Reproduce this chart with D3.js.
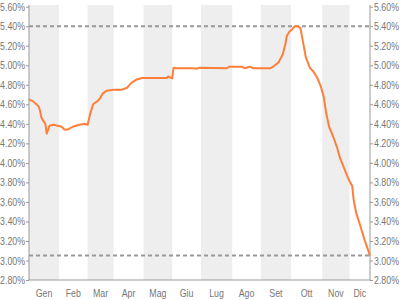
<!DOCTYPE html>
<html>
<head>
<meta charset="utf-8">
<script src="https://cdn.jsdelivr.net/npm/d3@7"></script>
<style>
  body { margin: 0; background: #fff; }
  svg text { font-family: "Liberation Sans", Arial, sans-serif; font-size: 11px; fill: #777; }
</style>
</head>
<body>
<svg width="400" height="300"></svg>
<script>
// months and number of trading days in each
var months = ["Gen", "Feb", "Mar", "Apr", "Mag", "Giu", "Lug", "Ago", "Set", "Ott", "Nov", "Dic"];
var monthDays = [22, 21, 19, 22, 21, 21, 23, 21, 22, 23, 20, 15];

// trading-day index and rate (%)
var dayIdx = [0, 3, 7, 8, 9, 10, 12, 13, 15, 18, 21, 24, 26, 29, 32, 37, 41, 43, 45, 47, 50, 52, 54, 57,
    62, 68, 72, 75, 79, 83, 101, 102, 105, 106, 108, 120, 123, 125, 145, 147, 156, 158, 162, 164,
    177, 179, 183, 186, 188, 189, 191, 193, 195, 197, 199, 201, 203, 206, 208, 211, 214, 216, 218,
    220, 223, 226, 228, 231, 234, 237, 238, 240, 243, 246, 249, 250];
var rate = [4.65, 4.63, 4.58, 4.54, 4.47, 4.44, 4.40, 4.30, 4.38, 4.39, 4.38, 4.37, 4.34, 4.345, 4.37, 4.39, 4.40, 4.39, 4.51, 4.60, 4.63, 4.66, 4.71, 4.74,
    4.75, 4.75, 4.77, 4.82, 4.855, 4.87, 4.87, 4.885, 4.865, 4.975, 4.97, 4.97, 4.965, 4.975, 4.97, 4.985, 4.985, 4.97, 4.985, 4.97,
    4.97, 4.985, 5.03, 5.11, 5.22, 5.30, 5.345, 5.37, 5.40, 5.40, 5.38, 5.23, 5.08, 4.97, 4.945, 4.88, 4.78, 4.68, 4.50,
    4.37, 4.27, 4.15, 4.05, 3.945, 3.84, 3.76, 3.62, 3.48, 3.35, 3.21, 3.09, 3.05];

var yTicks = d3.range(2.8, 5.61, 0.2);

var data = dayIdx.map((d, i) => ({ day: d, value: rate[i] }));

// month start positions
var monthStart = [];
var acc = 0;
monthDays.forEach(n => { monthStart.push(acc); acc += n; });
var totalDays = acc;

var svg = d3.select('svg');

var plotLeft = 29, plotRight = 370, plotTop = 5, plotBottom = 280;

var xScale = d3.scaleLinear()
    .domain([0, totalDays])
    .range([plotLeft, plotRight]);

var yScale = d3.scaleLinear()
    .domain([2.8, 5.6])
    .range([plotBottom, 6.7]);

// alternate month bands (Gen, Mar, Mag, ...)
var bandIdx = d3.range(0, months.length, 2);
svg.selectAll("rect.band")
    .data(bandIdx)
    .enter()
    .append("rect")
    .attr("class", "band")
    .attr("x", i => xScale(monthStart[i]))
    .attr("y", plotTop)
    .attr("width", i => xScale(monthStart[i] + monthDays[i]) - xScale(monthStart[i]))
    .attr("height", plotBottom - plotTop)
    .style("fill", "#eeeeee");

// month labels
svg.selectAll("text.month")
    .data(months)
    .enter()
    .append("text")
    .attr("class", "month")
    .attr("x", (d, i) => xScale(monthStart[i] + monthDays[i] / 2))
    .attr("y", 297)
    .attr("text-anchor", "middle")
    .text(d => d);

// axes
var fmt = d => d3.format(".2f")(d) + "%";

var yLeft = svg.append("g")
    .attr("transform", "translate(" + plotLeft + ",0)")
    .call(d3.axisLeft(yScale).tickValues(yTicks).tickFormat(fmt).tickSize(3).tickPadding(1));

var yRight = svg.append("g")
    .attr("transform", "translate(" + plotRight + ",0)")
    .call(d3.axisRight(yScale).tickValues(yTicks).tickFormat(fmt).tickSize(3).tickPadding(1));

[yLeft, yRight].forEach(g => {
    g.select(".domain").remove();
    g.selectAll("line").style("stroke", "#999");
    g.selectAll("text").style("fill", "#777").style("font-size", "11px")
        .style("font-family", '"Liberation Sans", Arial, sans-serif');
});

// squeeze all text to look like a narrow face
svg.selectAll("text").each(function() {
    var w = this.getComputedTextLength();
    d3.select(this)
        .attr("textLength", w * 0.8)
        .attr("lengthAdjust", "spacingAndGlyphs");
});

svg.append("line")
    .attr("x1", plotLeft).attr("x2", plotLeft)
    .attr("y1", plotTop).attr("y2", plotBottom)
    .style("stroke", "#999");

svg.append("line")
    .attr("x1", plotRight).attr("x2", plotRight)
    .attr("y1", plotTop).attr("y2", plotBottom)
    .style("stroke", "#999");

svg.append("line")
    .attr("x1", plotLeft).attr("x2", plotRight)
    .attr("y1", plotBottom).attr("y2", plotBottom)
    .style("stroke", "#999");

// max / min dashed lines
[d3.max(rate), d3.min(rate)].forEach(v => {
    svg.append("line")
        .attr("x1", plotLeft).attr("x2", plotRight)
        .attr("y1", yScale(v)).attr("y2", yScale(v))
        .style("stroke", "#999")
        .style("stroke-width", 2)
        .style("stroke-dasharray", "4,3");
});

// rate line
var line = d3.line()
    .x(d => xScale(d.day))
    .y(d => yScale(d.value));

svg.append("path")
    .datum(data)
    .attr("d", line)
    .style("fill", "none")
    .style("stroke", "#ff7f3a")
    .style("stroke-width", 2)
    .style("stroke-linejoin", "round");
</script>
</body>
</html>
